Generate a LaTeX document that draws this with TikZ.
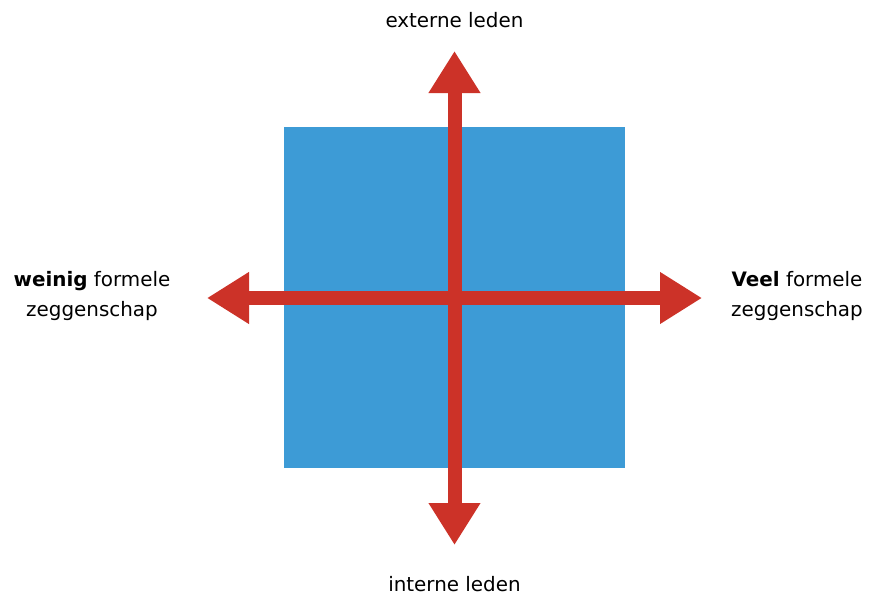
\documentclass[tikz,border=0pt]{standalone}
\usepackage{fontspec}
\setmainfont{DejaVu Sans}
\usetikzlibrary{arrows.meta}
\definecolor{sqblue}{RGB}{61,155,214}
\definecolor{arred}{RGB}{204,50,40}
\begin{document}
\begin{tikzpicture}[x=1pt,y=-1pt,
  lbl/.style={font=\fontsize{19.9}{30}\selectfont, align=center, inner sep=0pt, text=black},
  bigarrow/.style={draw=arred, line width=14pt, -{Triangle[length=42pt,width=49pt]}}]
\useasboundingbox (0,0) rectangle (873,597);
\fill[sqblue] (284,127) rectangle (625,468);
\coordinate (c) at (454.5,298);
\coordinate (top) at (454.5,51);
\coordinate (bot) at (454.5,545);
\coordinate (lft) at (207,298);
\coordinate (rgt) at (702,298);
\draw[bigarrow] (c) -- (top);
\draw[bigarrow] (c) -- (bot);
\draw[bigarrow] (c) -- (lft);
\draw[bigarrow] (c) -- (rgt);
\node[lbl] (ext) at (454.5,20) {externe leden};
\node[lbl] (int) at (454.5,584) {interne leden};
\node[lbl] (weinig) at (92,296) {\textbf{weinig} formele\\zeggenschap};
\node[lbl] (veel) at (797,296) {\textbf{Veel} formele\\zeggenschap};
\end{tikzpicture}
\end{document}
